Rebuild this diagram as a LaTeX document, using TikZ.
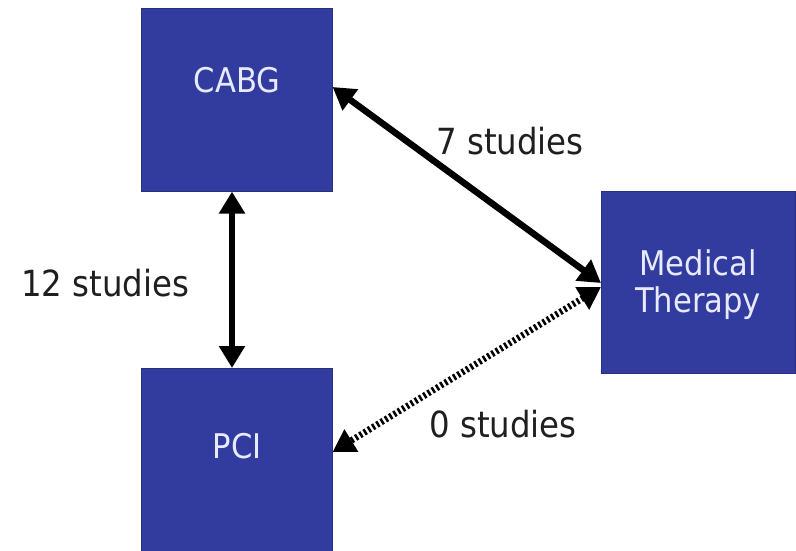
\documentclass[tikz,border=0pt]{standalone}
\usepackage{fontspec}
\setmainfont{DejaVu Sans Condensed}
\usetikzlibrary{arrows.meta,calc}
\definecolor{boxblue}{RGB}{50,60,158}
\definecolor{boxtext}{RGB}{232,234,255}
\tikzset{
  box/.style={fill=boxblue, draw=boxblue!80!black, line width=0.6pt, inner sep=0pt, anchor=north west},
  boxlabel/.style={text=boxtext, font=\fontsize{34}{37}\selectfont, align=center, inner sep=0pt},
  studies/.style={text=black!88, font=\fontsize{36}{40}\selectfont, inner sep=0pt},
  link/.style={line width=6.5pt, {Triangle[length=22pt,width=25pt]}-{Triangle[length=22pt,width=25pt]}},
  nolink/.style={link, dash pattern=on 2.5pt off 2.5pt}
}
\begin{document}
\begin{tikzpicture}[x=1pt,y=-1pt]
\useasboundingbox (0,0) rectangle (796,550);
\fill[white] (0,0) rectangle (796,550);
\node[box, minimum width=191pt, minimum height=183pt] (cabg) at (141,8) {};
\node[box, minimum width=191pt, minimum height=200pt] (pci) at (141,368) {};
\node[box, minimum width=194pt, minimum height=182pt] (med) at (601,191) {};
\node[boxlabel] (cabgt) at (237,80) {CABG};
\node[boxlabel] (pcit) at (237,446) {PCI};
\node[boxlabel] (medt) at (698,285) {Medical\\Therapy};
\node[studies] (l12) at (105,283) {12 studies};
\node[studies] (l7) at (510,141) {7 studies};
\node[studies] (l0) at (503,424) {0 studies};
\draw[link] (cabg.south -| 232,0) -- (pci.north -| 232,0);
\draw[link] ($(cabg.north east)+(0,79)$) -- ($(med.north west)+(0,92)$);
\draw[nolink] ($(med.north west)+(0,96)$) -- ($(pci.north east)+(0,84)$);
\end{tikzpicture}
\end{document}
